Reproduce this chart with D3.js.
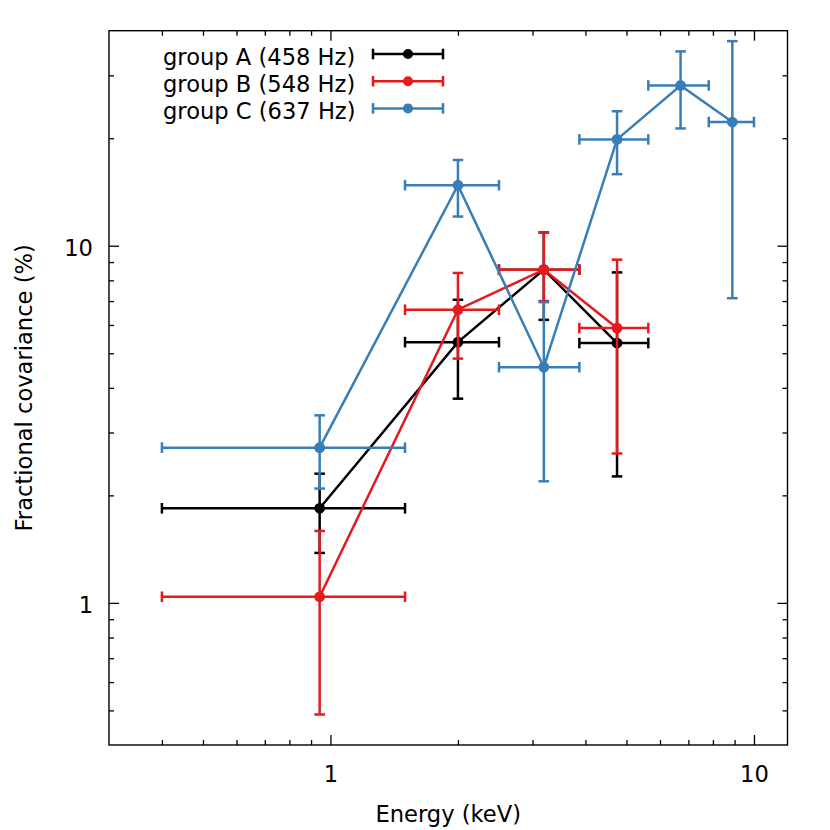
<!DOCTYPE html>
<html>
<head>
<meta charset="utf-8">
<script src="https://cdn.jsdelivr.net/npm/d3@7"></script>
<style>
html,body{margin:0;padding:0;background:#fff;}
svg{display:block;}
text{font-family:"DejaVu Sans",sans-serif;}
</style>
</head>
<body>
<svg id="chart" width="830" height="830"></svg>
<script>
// ---- data ----
const energyMid = [0.943, 2.0, 3.19, 4.75, 6.71, 8.89];
const energyLo  = [0.4, 1.5, 2.5, 3.87, 5.63, 7.82];
const energyHi  = [1.5, 2.5, 3.87, 5.63, 7.82, 10.0];

const seriesNames = ["group A (458 Hz)", "group B (548 Hz)", "group C (637 Hz)"];
const seriesColors = ["#000000", "#e41a1c", "#377eb8"];

const covA   = [1.84, 5.37, 8.57, 5.34];
const covALo = [1.38, 3.73, 6.2, 2.26];
const covAHi = [2.30, 7.06, 10.9, 8.42];

const covB   = [1.04, 6.62, 8.57, 5.88];
const covBLo = [0.487, 4.83, 7.0, 2.62];
const covBHi = [1.59, 8.39, 10.9, 9.14];

const covC   = [2.72, 14.77, 4.57, 19.85, 28.1, 22.2];
const covCLo = [2.09, 12.07, 2.19, 15.86, 21.3, 7.13];
const covCHi = [3.35, 17.38, 6.95, 23.8, 35.0, 37.4];

const xMajorTicks = [1, 10];
const xMinorTicks = [0.4, 0.5, 0.6, 0.7, 0.8, 0.9, 2, 3, 4, 5, 6, 7, 8, 9];
const yMajorTicks = [1, 10];
const yMinorTicks = [0.5, 0.6, 0.7, 0.8, 0.9, 2, 3, 4, 5, 6, 7, 8, 9, 20, 30];

const xLabel = "Energy (keV)";
const yLabel = "Fractional covariance (%)";

// ---- layout ----
const L = 109, R = 787.5, T = 30.7, B = 745;
const FS = 22.6;
const svg = d3.select("#chart");

const x = d3.scaleLog().domain([0.3, 12]).range([L, R]);
const y = d3.scaleLog().domain([0.4, 40]).range([B, T]);

const fmt = d => d3.format("d")(d);

function styleAxis(g) {
  g.select(".domain").remove();
  g.selectAll(".tick line").attr("stroke", "#000").attr("stroke-width", 1.3);
  g.selectAll(".tick text").attr("fill", "#000").style("font-size", FS + "px").style("font-family", "DejaVu Sans");
}

// bottom
svg.append("g").attr("transform", `translate(0,${B})`)
  .call(d3.axisBottom(x).tickValues(xMajorTicks).tickFormat(fmt).tickSize(-10).tickPadding(21))
  .call(styleAxis);
svg.append("g").attr("transform", `translate(0,${B})`)
  .call(d3.axisBottom(x).tickValues(xMinorTicks).tickFormat("").tickSize(-5))
  .call(styleAxis);
// top
svg.append("g").attr("transform", `translate(0,${T})`)
  .call(d3.axisTop(x).tickValues(xMajorTicks).tickFormat("").tickSize(-10))
  .call(styleAxis);
svg.append("g").attr("transform", `translate(0,${T})`)
  .call(d3.axisTop(x).tickValues(xMinorTicks).tickFormat("").tickSize(-5))
  .call(styleAxis);
// left
svg.append("g").attr("transform", `translate(${L},0)`)
  .call(d3.axisLeft(y).tickValues(yMajorTicks).tickFormat(fmt).tickSize(-10).tickPadding(16))
  .call(styleAxis)
  .call(g => g.selectAll(".tick text").attr("dy", "0.42em"));
svg.append("g").attr("transform", `translate(${L},0)`)
  .call(d3.axisLeft(y).tickValues(yMinorTicks).tickFormat("").tickSize(-5))
  .call(styleAxis);
// right
svg.append("g").attr("transform", `translate(${R},0)`)
  .call(d3.axisRight(y).tickValues(yMajorTicks).tickFormat("").tickSize(-10))
  .call(styleAxis);
svg.append("g").attr("transform", `translate(${R},0)`)
  .call(d3.axisRight(y).tickValues(yMinorTicks).tickFormat("").tickSize(-5))
  .call(styleAxis);

// frame
svg.append("rect").attr("x", L).attr("y", T).attr("width", R - L).attr("height", B - T)
  .attr("fill", "none").attr("stroke", "#000").attr("stroke-width", 1.4);

// labels
svg.append("text").attr("x", (L + R) / 2).attr("y", 821.5).attr("text-anchor", "middle")
  .style("font-size", FS + "px").text(xLabel);
svg.append("text").attr("transform", `translate(31.5,${(T + B) / 2}) rotate(-90)`)
  .attr("text-anchor", "middle").style("font-size", FS + "px").text(yLabel);

// series
const series = [
  {v: covA, lo: covALo, hi: covAHi},
  {v: covB, lo: covBLo, hi: covBHi},
  {v: covC, lo: covCLo, hi: covCHi}
];
const LW = 2.5, CAP = 5.3, MR = 5.4;

series.forEach((s, si) => {
  const col = seriesColors[si];
  const g = svg.append("g");
  const pts = s.v.map((v, i) => ({
    xm: energyMid[i], xl: energyLo[i], xh: energyHi[i], v: v, vl: s.lo[i], vh: s.hi[i]
  }));
  pts.forEach(p => {
    const cx = x(p.xm), cy = y(p.v);
    const xl = x(p.xl), xh = x(p.xh), yl = y(p.vl), yh = y(p.vh);
    const segs = [
      [xl, cy, xh, cy],
      [cx, yl, cx, yh],
      [xl, cy - CAP, xl, cy + CAP],
      [xh, cy - CAP, xh, cy + CAP],
      [cx - CAP, yl, cx + CAP, yl],
      [cx - CAP, yh, cx + CAP, yh]
    ];
    segs.forEach(sg => g.append("line")
      .attr("x1", sg[0]).attr("y1", sg[1]).attr("x2", sg[2]).attr("y2", sg[3])
      .attr("stroke", col).attr("stroke-width", LW));
  });
  g.append("path").datum(pts)
    .attr("d", d3.line().x(p => x(p.xm)).y(p => y(p.v)))
    .attr("fill", "none").attr("stroke", col).attr("stroke-width", LW).attr("stroke-linejoin", "miter");
  g.selectAll("circle").data(pts).join("circle")
    .attr("cx", p => x(p.xm)).attr("cy", p => y(p.v)).attr("r", MR).attr("fill", col);
});

// legend
const legTextX = 163, legY0 = 54, legDy = 27.2, hx1 = 373, hx2 = 443;
seriesNames.forEach((name, i) => {
  const cy = legY0 + i * legDy;
  const col = seriesColors[i];
  const g = svg.append("g");
  g.append("text").attr("x", legTextX).attr("y", cy + 11).style("font-size", FS + "px").text(name);
  g.append("line").attr("x1", hx1).attr("x2", hx2).attr("y1", cy).attr("y2", cy)
    .attr("stroke", col).attr("stroke-width", LW);
  [hx1, hx2].forEach(hx => g.append("line").attr("x1", hx).attr("x2", hx)
    .attr("y1", cy - CAP).attr("y2", cy + CAP).attr("stroke", col).attr("stroke-width", LW));
  g.append("circle").attr("cx", (hx1 + hx2) / 2).attr("cy", cy).attr("r", 5).attr("fill", col);
});
</script>
</body>
</html>
